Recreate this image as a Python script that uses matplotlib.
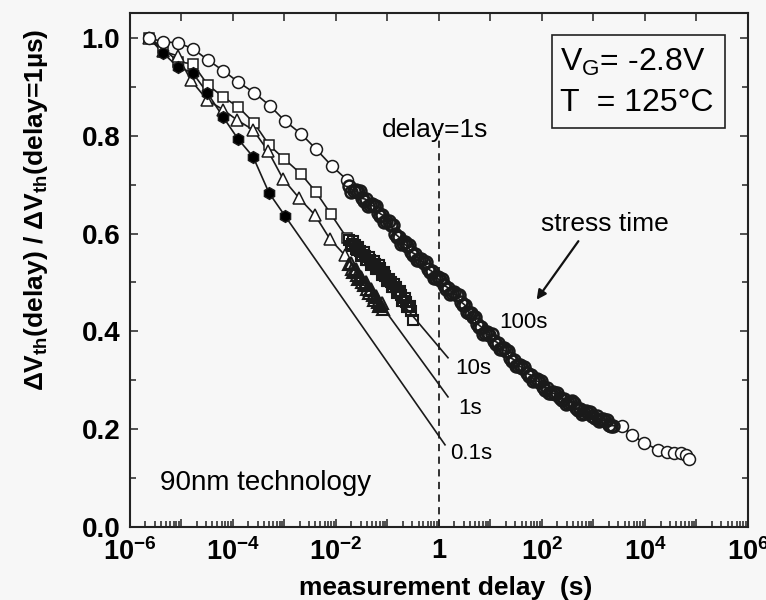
import matplotlib
matplotlib.use("Agg")
import matplotlib.pyplot as plt
import numpy as np
from matplotlib.ticker import LogLocator, FuncFormatter, MultipleLocator, NullFormatter
from matplotlib.patches import Rectangle

plt.rcParams['font.family'] = ['Liberation Sans', 'DejaVu Sans']
plt.rcParams['mathtext.fontset'] = 'custom'
plt.rcParams['mathtext.rm'] = 'Liberation Sans'
plt.rcParams['mathtext.it'] = 'Liberation Sans:italic'
plt.rcParams['mathtext.bf'] = 'Liberation Sans:bold'

# --- recovery data, normalised to the 1us value (delay given as log10 seconds) ---
# stress 100 s: open circles
logd_100s = [-5.63, -5.36, -5.07, -4.78, -4.49, -4.19, -3.90, -3.59, -3.28, -2.99, -2.68, -2.39, -2.08, -1.79,
             -1.74, -1.66, -1.58, -1.50, -1.42, -1.34, -1.26, -1.18, -1.10, -1.02, -0.94, -0.86, -0.78, -0.70,
             -0.62, -0.54, -0.46, -0.38, -0.30, -0.22, -0.14, -0.06, 0.02, 0.10, 0.18, 0.26, 0.34, 0.42,
             0.50, 0.58, 0.66, 0.74, 0.82, 0.90, 0.98, 1.06, 1.14, 1.22, 1.30, 1.38, 1.46, 1.54,
             1.62, 1.70, 1.78, 1.86, 1.94, 2.02, 2.10, 2.18, 2.26, 2.34, 2.42, 2.50, 2.58, 2.66,
             2.74, 2.82, 2.90, 2.98, 3.06, 3.14, 3.22, 3.30, 3.38,
             3.55, 3.74, 3.98, 4.25, 4.43, 4.56, 4.70, 4.79, 4.85]
ratio_100s = [1.000, 0.992, 0.990, 0.978, 0.955, 0.933, 0.910, 0.888, 0.861, 0.830, 0.804, 0.773, 0.738, 0.710,
              0.697, 0.686, 0.685, 0.672, 0.670, 0.658, 0.656, 0.643, 0.638, 0.625, 0.618, 0.600, 0.593, 0.580,
              0.575, 0.562, 0.558, 0.546, 0.540, 0.528, 0.523, 0.510, 0.505, 0.494, 0.489, 0.478, 0.474, 0.461,
              0.454, 0.438, 0.430, 0.416, 0.409, 0.396, 0.392, 0.381, 0.377, 0.364, 0.359, 0.346, 0.342, 0.330,
              0.326, 0.314, 0.311, 0.300, 0.297, 0.286, 0.284, 0.274, 0.272, 0.263, 0.262, 0.253, 0.257, 0.243,
              0.242, 0.234, 0.234, 0.226, 0.226, 0.218, 0.217, 0.209, 0.207,
              0.206, 0.189, 0.172, 0.158, 0.154, 0.151, 0.151, 0.147, 0.138]
# extra readings inside the dense 100 s band
logd_100s_b = [-1.70, -1.62, -1.54, -1.46, -1.38, -1.30, -1.22, -1.14, -1.06, -0.98, -0.90, -0.82, -0.74,
               -0.66, -0.58, -0.50, -0.42, -0.34, -0.26, -0.18, -0.10, -0.02, 0.06, 0.14, 0.22, 0.30,
               0.38, 0.46, 0.54, 0.62, 0.70, 0.78, 0.86, 0.94, 1.02, 1.10, 1.18, 1.26, 1.34, 1.42,
               1.50, 1.58, 1.66, 1.74, 1.82, 1.90, 1.98, 2.06, 2.14, 2.22, 2.30, 2.38, 2.46, 2.54,
               2.62, 2.70, 2.78, 2.86, 2.94, 3.02, 3.10, 3.18, 3.26, 3.34]
ratio_100s_b = [0.684, 0.690, 0.686, 0.667, 0.657, 0.661, 0.657, 0.636, 0.624, 0.626, 0.617, 0.592, 0.579,
                0.582, 0.576, 0.556, 0.545, 0.547, 0.541, 0.521, 0.509, 0.511, 0.507, 0.487, 0.476, 0.480,
                0.475, 0.453, 0.439, 0.438, 0.430, 0.408, 0.395, 0.398, 0.394, 0.375, 0.363, 0.365, 0.360, 0.340,
                0.329, 0.332, 0.327, 0.308, 0.299, 0.302, 0.298, 0.281, 0.273, 0.276, 0.274, 0.259, 0.251, 0.256,
                0.254, 0.239, 0.232, 0.237, 0.236, 0.223, 0.216, 0.221, 0.218, 0.206]

# stress 10 s: open squares
logd_10s = [-5.63, -5.36, -5.07, -4.78, -4.49, -4.19, -3.90, -3.59, -3.30, -3.01, -2.68, -2.39, -2.10, -1.79,
            -1.74, -1.69, -1.64, -1.59, -1.54, -1.49, -1.44, -1.39, -1.34, -1.29, -1.24, -1.19, -1.14,
            -1.09, -1.04, -0.99, -0.94, -0.89, -0.84, -0.79, -0.74, -0.69, -0.64, -0.59, -0.54, -0.50]
ratio_10s = [1.000, 0.980, 0.951, 0.947, 0.904, 0.879, 0.859, 0.826, 0.781, 0.753, 0.722, 0.685, 0.640, 0.591,
             0.586, 0.578, 0.576, 0.567, 0.565, 0.556, 0.555, 0.546, 0.546, 0.538, 0.538, 0.528, 0.529,
             0.517, 0.514, 0.503, 0.501, 0.491, 0.490, 0.480, 0.474, 0.463, 0.460, 0.449, 0.442, 0.424]
logd_10s_b = [-1.715, -1.665, -1.615, -1.565, -1.515, -1.465, -1.415, -1.365, -1.315, -1.265, -1.215, -1.165,
              -1.115, -1.065, -1.015, -0.965, -0.915, -0.865, -0.815, -0.765, -0.715, -0.665, -0.615, -0.565]
ratio_10s_b = [0.575, 0.584, 0.568, 0.572, 0.554, 0.562, 0.545, 0.552, 0.536, 0.544, 0.527, 0.535,
               0.516, 0.522, 0.502, 0.508, 0.490, 0.497, 0.478, 0.483, 0.463, 0.468, 0.449, 0.452]

# stress 1 s: open triangles
logd_1s = [-5.63, -5.36, -5.07, -4.82, -4.50, -4.19, -3.92, -3.61, -3.32, -3.03, -2.72, -2.41, -2.12, -1.83,
           -1.74, -1.69, -1.64, -1.59, -1.54, -1.49, -1.44, -1.39, -1.34, -1.29, -1.24, -1.19, -1.14, -1.09]
ratio_1s = [1.000, 0.973, 0.963, 0.914, 0.873, 0.853, 0.832, 0.812, 0.769, 0.712, 0.673, 0.638, 0.589, 0.556,
            0.538, 0.528, 0.526, 0.515, 0.511, 0.501, 0.499, 0.487, 0.485, 0.474, 0.470, 0.460, 0.456, 0.445]
logd_1s_b = [-1.715, -1.665, -1.615, -1.565, -1.515, -1.465, -1.415, -1.365, -1.315, -1.265, -1.215, -1.165, -1.115]
ratio_1s_b = [0.540, 0.522, 0.528, 0.508, 0.512, 0.494, 0.500, 0.479, 0.486, 0.465, 0.472, 0.452, 0.458]

# stress 0.1 s: filled hexagons
logd_01s = [-5.63, -5.36, -5.07, -4.78, -4.50, -4.19, -3.90, -3.61, -3.30, -2.99]
ratio_01s = [1.000, 0.969, 0.941, 0.928, 0.888, 0.838, 0.793, 0.757, 0.683, 0.636]

# straight-line extrapolations out to 1 s delay
fit_end_logd = {'10s': 0.175, '1s': 0.175, '0.1s': 0.117}
fit_end_ratio = {'10s': 0.346, '1s': 0.266, '0.1s': 0.168}

fig = plt.figure(figsize=(7.66, 6.0), dpi=100, facecolor='#f7f7f7')
ax = fig.add_axes([0.1697, 0.1217, 0.8068, 0.8567])
ax.set_facecolor('#f7f7f7')

def d(lst):
    return 10.0 ** np.asarray(lst)

ax.axvline(1.0, ymin=0, ymax=0.773, color='#222222', lw=1.3, ls=(0, (4, 3)), zorder=1)

lw = 1.2
ink = '#1a1a1a'
# fit lines (sparse points then out to the extrapolated end)
ax.plot(d(logd_10s[:14] + [fit_end_logd['10s']]), ratio_10s[:14] + [fit_end_ratio['10s']],
        color=ink, lw=lw, zorder=2)
ax.plot(d(logd_1s[:14] + [fit_end_logd['1s']]), ratio_1s[:14] + [fit_end_ratio['1s']],
        color=ink, lw=lw, zorder=2)
ax.plot(d(logd_01s + [fit_end_logd['0.1s']]), ratio_01s + [fit_end_ratio['0.1s']],
        color=ink, lw=lw, zorder=2)
ax.plot(d(logd_100s), ratio_100s, color=ink, lw=lw, zorder=2)

# sparse points drawn as open markers; the crowded later stretch as overlapping rings
sq = dict(ls='none', marker='s', ms=7.4, mec=ink, zorder=3)
ax.plot(d(logd_10s[:14]), ratio_10s[:14], mew=1.1, mfc='white', **sq)
ax.plot(d(logd_10s[14:] + logd_10s_b), ratio_10s[14:] + ratio_10s_b, mew=1.5, mfc='none', **sq)
tri = dict(ls='none', marker='^', ms=8.5, mec=ink, zorder=4)
ax.plot(d(logd_1s[:14]), ratio_1s[:14], mew=1.1, mfc='white', **tri)
ax.plot(d(logd_1s[14:] + logd_1s_b), ratio_1s[14:] + ratio_1s_b, mew=1.5, mfc='none', **tri)
ax.plot(d(logd_01s), ratio_01s, ls='none', marker='h', ms=8.5, mfc='black', mec=ink, mew=1.0, zorder=5)
circ = dict(ls='none', marker='o', ms=8.6, mec=ink, zorder=6)
ax.plot(d(logd_100s[:14] + logd_100s[79:]), ratio_100s[:14] + ratio_100s[79:], mew=1.1, mfc='white', **circ)
ax.plot(d(logd_100s[14:79] + logd_100s_b), ratio_100s[14:79] + ratio_100s_b, mew=1.8, mfc='none', **circ)

ax.set_xscale('log')
ax.set_xlim(1e-6, 1e6)
ax.set_ylim(0, 1.051)

def xfmt(v, pos):
    e = int(round(np.log10(v)))
    if e % 2:
        return ''
    if e == 0:
        return r'$\mathbf{1}$'
    return r'$\mathbf{10^{%d}}$' % e

ax.xaxis.set_major_locator(LogLocator(base=10, numticks=20))
ax.xaxis.set_minor_locator(LogLocator(base=10, subs=np.arange(2, 10), numticks=20))
ax.xaxis.set_major_formatter(FuncFormatter(xfmt))
ax.xaxis.set_minor_formatter(NullFormatter())
ax.yaxis.set_major_locator(MultipleLocator(0.2))
ax.yaxis.set_minor_locator(MultipleLocator(0.1))
ax.yaxis.set_major_formatter(FuncFormatter(lambda v, p: '%.1f' % v))

ax.tick_params(which='both', direction='in', top=True, right=True, width=1.1, color='#222222')
ax.tick_params(which='major', length=6)
ax.tick_params(which='minor', length=4)
ax.tick_params(axis='x', which='minor', top=False)
ax.tick_params(axis='x', labelsize=19.5, pad=8)
ax.tick_params(axis='y', labelsize=20, pad=7)
for lab in ax.get_yticklabels():
    lab.set_fontweight('bold')
for s in ax.spines.values():
    s.set_linewidth(1.5)
    s.set_color('#222222')

ax.set_xlabel('measurement delay  (s)', fontsize=19, fontweight='bold')
ax.xaxis.set_label_coords(0.511, -0.095)
ax.set_ylabel(r'ΔV$_{\mathbf{th}}$(delay) / ΔV$_{\mathbf{th}}$(delay=1µs)', fontsize=19, fontweight='bold')
ax.yaxis.set_label_coords(-0.129, 0.617)

# annotations
ax.text(10 ** -0.078, 0.812, 'delay=1s', fontsize=19, ha='center', va='center')
ax.text(10 ** 3.223, 0.620, 'stress time', fontsize=19, ha='center', va='center')
ax.annotate('', xy=(10 ** 1.864, 0.460), xytext=(10 ** 2.738, 0.589),
            arrowprops=dict(arrowstyle='-|>', color='#111111', lw=1.6, mutation_scale=14))
ax.text(10 ** 1.165, 0.419, '100s', fontsize=16, ha='left', va='center')
ax.text(10 ** 0.311, 0.325, '10s', fontsize=16, ha='left', va='center')
ax.text(10 ** 0.369, 0.243, '1s', fontsize=16, ha='left', va='center')
ax.text(10 ** 0.214, 0.151, '0.1s', fontsize=16, ha='left', va='center')
ax.text(10 ** -5.417, 0.090, '90nm technology', fontsize=20, ha='left', va='center')

ax.add_patch(Rectangle((0.683, 0.776), 0.280, 0.181, transform=ax.transAxes,
                       fill=False, lw=1.2, ec='#222222', zorder=7))
ax.text(0.696, 0.903, r'V$_\mathregular{G}$= -2.8V', transform=ax.transAxes, fontsize=23,
        ha='left', va='center')
ax.text(0.696, 0.825, 'T  = 125°C', transform=ax.transAxes, fontsize=23, ha='left', va='center')

fig.savefig('out.png', dpi=100, facecolor=fig.get_facecolor())
